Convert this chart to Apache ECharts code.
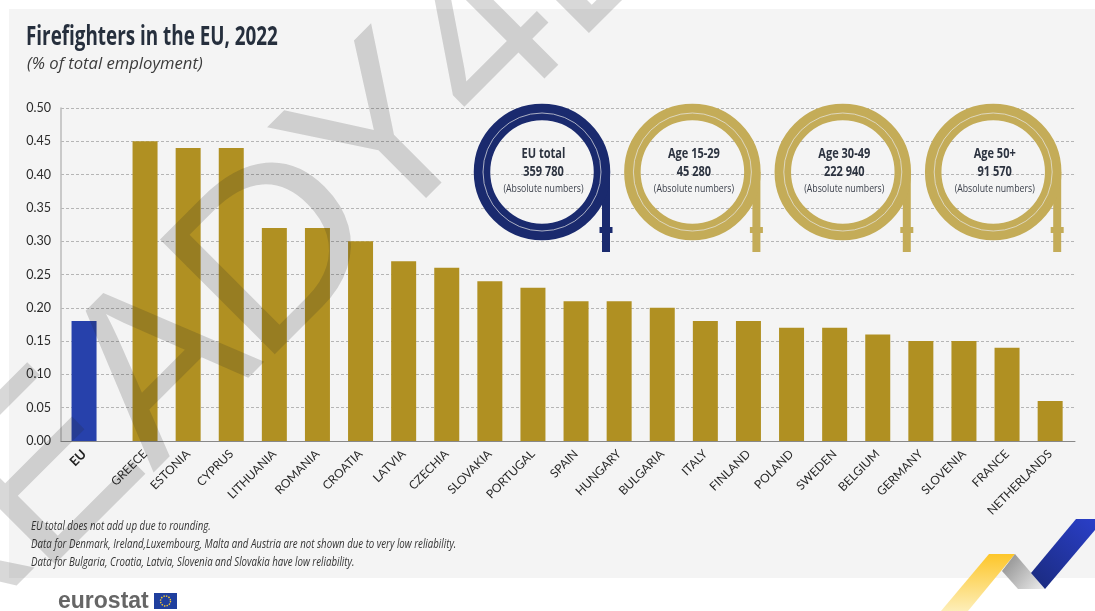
<!DOCTYPE html>
<html><head><meta charset="utf-8">
<style>html,body{margin:0;padding:0;background:#fff}#c{width:1095px;height:611px}</style>
<script src="https://cdn.jsdelivr.net/npm/echarts@6/dist/echarts.min.js"></script></head>
<body><div id="c"></div>
<script>
const euCategory = ['EU'];
const euValues = [0.18];
const countries = ['GREECE','ESTONIA','CYPRUS','LITHUANIA','ROMANIA','CROATIA','LATVIA','CZECHIA','SLOVAKIA','PORTUGAL','SPAIN','HUNGARY','BULGARIA','ITALY','FINLAND','POLAND','SWEDEN','BELGIUM','GERMANY','SLOVENIA','FRANCE','NETHERLANDS'];
const countryValues = [0.45,0.44,0.44,0.32,0.32,0.30,0.27,0.26,0.24,0.23,0.21,0.21,0.20,0.18,0.18,0.17,0.17,0.16,0.15,0.15,0.14,0.06];
const hoseTitles = ['EU total','Age 15-29','Age 30-49','Age 50+'];
const hoseValues = ['359 780','45 280','222 940','91 570'];
const footnotes = ['EU total does not add up due to rounding.','Data for Denmark, Ireland,Luxembourg, Malta and Austria are not shown due to very low reliability.','Data for Bulgaria, Croatia, Latvia, Slovenia and Slovakia have low reliability.'];
const watermark = ['R','E','A','D','Y','4','E'];

const SANS = '"Open Sans",sans-serif';
const LAB = 'Lato,sans-serif';
const chart = echarts.init(document.getElementById('c'), null, {renderer:'canvas'});
const g = [];
g.push({type:'rect',z:-10,silent:true,shape:{x:9,y:9,width:1086,height:569},style:{fill:'#f4f4f4'}});
g.push({type:'text',x:26,y:25,scaleX:0.725,z:5,style:{text:'Firefighters in the EU, 2022',font:'bold 26px '+SANS,fill:'#262f3d'}});
g.push({type:'text',x:27,y:56,scaleX:1.04,z:5,style:{text:'(% of total employment)',font:'italic 16px '+SANS,fill:'#3c3c3c'}});
footnotes.forEach((t,i)=>g.push({type:'text',x:31,y:520+i*18,scaleX:0.745,z:5,style:{text:t,font:'italic 13px '+SANS,fill:'#333'}}));
const wmPos=[[-64,574],[51,476],[163,371],[280,257],[388,144],[487,44],[585,-55]];
const wmScale=[1,1,1,1.1,1,1,1];
watermark.forEach((t,i)=>g.push({type:'text',z:20,silent:true,x:wmPos[i][0],y:wmPos[i][1],rotation:Math.PI/4,scaleX:wmScale[i],
  style:{text:t,font:'236px "Liberation Sans",sans-serif',fill:'rgba(40,40,40,0.18)',align:'center',verticalAlign:'middle'}}));
hoseTitles.forEach((t,i)=>{
  const cx=542+i*150.4, cy=172, col=i===0?'#1a2a6e':'#c4ac58';
  const txt=(s,y,font,fill)=>g.push({type:'text',z:8,x:cx+1.5,y:cy+y,scaleX:0.76,style:{text:s,font,fill,align:'center',verticalAlign:'middle'}});
  g.push({type:'rect',z:6,shape:{x:cx+60,y:cy,width:8,height:80},style:{fill:col}});
  g.push({type:'rect',z:6,shape:{x:cx+57.5,y:cy+55,width:13,height:6},style:{fill:col}});
  g.push({type:'circle',z:6,shape:{cx,cy,r:60},style:{fill:'none',stroke:col,lineWidth:16.5}});
  g.push({type:'circle',z:7,shape:{cx,cy,r:59},style:{fill:'none',stroke:'#e8e8e8',lineWidth:0.7}});
  txt(t,-18,'bold 14.5px '+SANS,'#2c3340');
  txt(hoseValues[i],0,'bold 14.5px '+SANS,'#2c3340');
  txt('(Absolute numbers)',16.5,'11.5px '+SANS,'#3a3f4a');
});
g.push({type:'text',x:58,y:590,scaleX:1.0,z:5,style:{text:'eurostat',font:'bold 23px "Liberation Sans",sans-serif',fill:'#666'}});
g.push({type:'rect',z:5,shape:{x:154,y:593,width:23,height:16},style:{fill:'#1f3f9e'}});
g.push({type:'circle',z:6,shape:{cx:165.5,cy:601,r:5},style:{fill:'none',stroke:'#f2c832',lineWidth:1.4,lineDash:[1.4,1.2]}});
const lin=(x,y,x2,y2,a,b)=>({type:'linear',x,y,x2,y2,colorStops:[{offset:0,color:a},{offset:1,color:b}]});
g.push({type:'polygon',z:6,shape:{points:[[989,554],[1015,554],[968,611],[941,611]]},style:{fill:lin(0,0,0,1,'#fdc629','#fdeeb8')}});
g.push({type:'polygon',z:6,shape:{points:[[1015,554],[1045,589],[1018,589],[1002,571]]},style:{fill:lin(0,0,1,1,'#888','#eee')}});
g.push({type:'polygon',z:6,shape:{points:[[1076,519],[1095,519],[1095,530],[1045,589],[1031,573]]},style:{fill:lin(1,0,0,1,'#2a3fc8','#1a2a7c')}});

const opt={animation:false,
 grid:[{left:61,top:108,width:1014,height:333},{left:123.5,top:108,width:948.2,height:333}],
 xAxis:[
  {type:'category',gridIndex:0,data:euCategory,max:21,axisLine:{lineStyle:{color:'#888',width:1}},axisTick:{show:false},
   axisLabel:{rotate:45,interval:0,margin:11,fontFamily:LAB,fontSize:13,fontWeight:'bold',color:'#222'}},
  {type:'category',gridIndex:1,data:countries,axisLine:{show:false},axisTick:{show:false},
   axisLabel:{rotate:45,interval:0,margin:11,fontFamily:LAB,fontSize:12,color:'#2a2a2a'}}],
 yAxis:[
  {type:'value',gridIndex:0,min:0,max:0.5,interval:0.05,axisLine:{show:true,lineStyle:{color:'#bbb',width:1.5}},axisTick:{show:false},
   splitLine:{lineStyle:{type:[3,2],color:'#b5b5b5',width:1}},
   axisLabel:{formatter:v=>v.toFixed(2),margin:10,fontFamily:LAB,fontSize:12.5,color:'#2a2a2a'}},
  {type:'value',gridIndex:1,min:0,max:0.5,interval:0.05,show:false,splitLine:{show:false}}],
 series:[
  {type:'bar',xAxisIndex:0,yAxisIndex:0,data:euValues,barWidth:25,itemStyle:{color:'#2741ab'},z:3},
  {type:'bar',xAxisIndex:1,yAxisIndex:1,data:countryValues,barWidth:25,itemStyle:{color:'#b09022'},z:3}],
 graphic:g};
chart.setOption(opt);
</script></body></html>
